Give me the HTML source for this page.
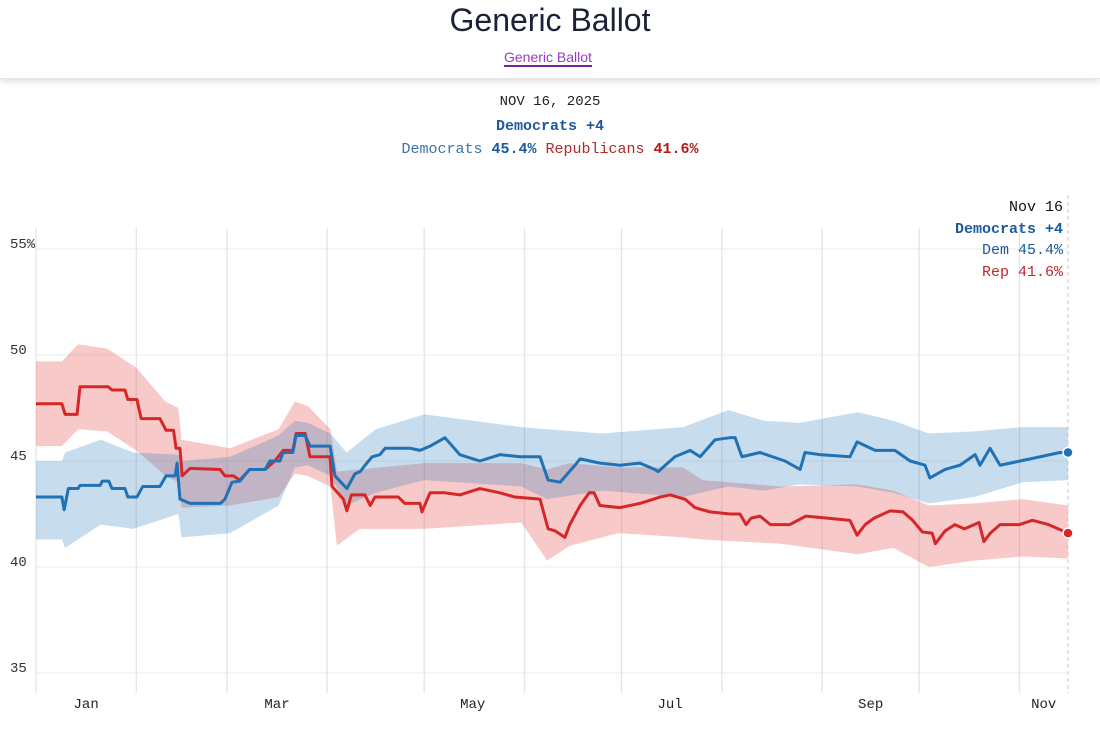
<!DOCTYPE html>
<html><head><meta charset="utf-8"><style>
body{margin:0;width:1100px;height:733px;background:#fff;overflow:hidden;position:relative;font-family:"Liberation Sans",sans-serif}
.hdr{position:absolute;left:0;top:0;width:1100px;height:78px;background:#fff;box-shadow:0 3px 6px rgba(0,0,0,0.12);border-bottom:1px solid #e4e4e4}
.title{position:absolute;top:2px;width:1100px;text-align:center;font-size:32px;color:#1a2238;font-weight:300}
.link{position:absolute;top:49px;left:504px;font-size:14px;color:#9b3bbd;border-bottom:2px solid #7a1fa0;line-height:16px}
.mono{font-family:"Liberation Mono",monospace}
.c{position:absolute;width:1100px;text-align:center}
</style></head><body>
<div class="hdr">
<div class="title">Generic Ballot</div>
<span class="link">Generic Ballot</span>
</div>
<div class="c mono" style="top:94px;font-size:14px;color:#222">NOV 16, 2025</div>
<div class="c mono" style="top:118px;font-size:15px;font-weight:bold;color:#1c5a9c">Democrats +4</div>
<div class="c mono" style="top:141px;font-size:15px"><span style="color:#3a72a8">Democrats</span> <b style="color:#1c5a9c">45.4%</b> <span style="color:#b02a2a">Republicans</span> <b style="color:#b01c1c">41.6%</b></div>
<svg id="chart" width="1100" height="733" style="position:absolute;left:0;top:0"></svg>
<script>
const yTicks=[55,50,45,40,35];
const monthStarts=[0,31,59,90,120,151,181,212,243,273,304];
const monthLabels=["Jan","Mar","May","Jul","Sep","Nov"];
const monthLabelDays=[15.5,74.5,135,196,258,311.5];
const demDays=[0,8,8.7,10,13,13.6,19.8,20.5,22.5,23.5,27.5,28.4,31.2,33,38.3,40.2,43,43.6,44.5,47.6,57,58.4,60.6,63,66,70.8,72.3,75.4,76.4,79.4,80.4,83.2,84.7,90.9,92.4,96.1,98.6,100.2,101.7,103.9,106.3,107.9,115.6,118.7,121.8,126.4,131,137.2,143.4,149.6,155.8,158.3,162,166.6,168.2,174.3,180.5,186.7,191.3,192.3,197.5,202.2,205.3,209.9,214.5,216.1,218.2,223.8,231.5,236.2,237.7,242.3,251.6,253.8,259.4,265.5,270.2,274.8,276.3,281,285.6,290.3,291.8,294.9,298,304.2,310.4,316.5,319];
const demVals=[43.3,43.3,42.7,43.7,43.7,43.85,43.85,44.05,44.05,43.7,43.7,43.3,43.3,43.8,43.8,44.3,44.3,44.9,43.2,43.0,43.0,43.2,44.0,44.05,44.6,44.6,45.0,45.0,45.4,45.4,46.2,46.2,45.7,45.7,44.3,43.7,44.4,44.5,44.8,45.2,45.3,45.6,45.6,45.5,45.7,46.1,45.3,45.0,45.3,45.2,45.2,44.1,44.0,44.8,45.1,44.9,44.8,44.9,44.6,44.5,45.2,45.5,45.2,46.0,46.1,46.1,45.2,45.4,45.0,44.6,45.4,45.3,45.2,45.9,45.5,45.5,45.0,44.8,44.2,44.6,44.8,45.3,44.8,45.6,44.8,45.0,45.2,45.4,45.4];
const repDays=[0,8,9,12.7,13.6,22.3,23.5,27.5,28.4,31.2,32.5,38.3,40.2,42.5,43.3,44.5,45.2,47.6,56.9,58.4,61,63,66,70.8,73.8,76.4,79.4,80.4,83.2,84.7,90.9,91.5,95,96.1,97.5,101.7,103.3,104.8,112,114,118.7,119.3,121.8,126.4,131,137.2,143.4,148,155.8,158.3,160.5,163.5,165,168.2,171,172.5,174.3,180.5,186.7,192.9,196,200.6,203.7,208.3,214.5,217.6,219.5,221,223.8,227,233,238,245,251.6,253.8,256.3,259,264,268,271,274,277,278,281,284,287,290,291.5,293,295,298,304,308,313,319];
const repVals=[47.7,47.7,47.2,47.2,48.5,48.5,48.35,48.35,47.9,47.9,47.0,47.0,46.45,46.45,45.6,45.6,44.3,44.65,44.6,44.3,44.3,44.1,44.6,44.6,45.0,45.5,45.5,46.3,46.3,45.2,45.2,43.8,43.2,42.65,43.4,43.4,42.9,43.3,43.3,43.0,43.0,42.6,43.5,43.5,43.4,43.7,43.5,43.3,43.2,41.8,41.7,41.4,42.0,42.9,43.5,43.5,42.9,42.8,43.0,43.3,43.4,43.2,42.8,42.6,42.5,42.5,42.0,42.3,42.4,42.0,42.0,42.4,42.3,42.2,41.5,42.0,42.3,42.65,42.6,42.2,41.65,41.6,41.1,41.7,42.0,41.8,42.0,42.1,41.2,41.6,42.0,42.0,42.2,42.0,41.6];
const demBandDays=[0,8,9,20,30,44,45,60,75,80,84,91,96,105,120,150,158,175,200,214,225,236,254,265,276,290,305,319];
const demHi=[45.0,45.0,45.4,46.0,45.4,45.3,45.0,45.2,46.2,46.9,46.8,46.3,45.4,46.5,47.2,46.6,46.5,46.3,46.6,47.4,46.9,46.8,47.3,46.9,46.3,46.4,46.6,46.6];
const demLo=[41.3,41.3,40.9,42.0,41.8,42.5,41.4,41.6,42.9,44.7,44.8,44.3,42.9,43.5,44.1,43.8,43.2,43.6,43.3,43.8,43.6,43.9,43.8,43.5,43.0,43.3,44.0,44.1];
const repBandDays=[0,8,13,22,31,40,44,45,60,75,80,84,91,93,100,120,150,158,165,180,200,206,230,254,265,276,290,305,319];
const repHi=[49.7,49.7,50.5,50.3,49.4,47.8,47.5,46.0,45.6,46.5,47.8,47.6,46.5,44.5,44.6,44.9,44.9,44.6,44.9,44.7,44.7,44.1,43.8,43.9,43.6,42.9,43.0,43.2,42.9];
const repLo=[45.7,45.7,46.5,46.4,45.5,44.3,44.0,42.8,42.9,43.3,44.4,44.3,43.8,41.0,41.8,41.8,42.1,40.3,41.0,41.6,41.4,41.3,41.1,40.6,40.9,40.0,40.3,40.5,40.4];

const svg=document.getElementById('chart');
const NS='http://www.w3.org/2000/svg';
const X0=36,X1=1068,D1=319,Y55=249,PX=21.2;
function xs(d){return X0+d*(X1-X0)/D1;}
function ys(v){return Y55+(55-v)*PX;}
function mk(t,a,p){const e=document.createElementNS(NS,t);for(const k in a)e.setAttribute(k,a[k]);(p||svg).appendChild(e);return e;}
// horizontal grid
yTicks.forEach((v,i)=>{
 const l=mk('line',{x1:X0,x2:X1,y1:ys(v),y2:ys(v),stroke:'#ececec','stroke-width':1});
 
 
 const t=mk('text',{x:10,y:ys(v)-1,'font-size':14,fill:'#333','font-family':'Liberation Mono, monospace'});
 t.textContent=v+(i===0?'%':'');
 
 
});
monthStarts.forEach(d=>{
 const l=mk('line',{x1:xs(d),x2:xs(d),y1:228,y2:693,stroke:'#e4e4e8','stroke-width':1.3});
 
 
});
monthLabels.forEach((m,i)=>{
 const t=mk('text',{x:xs(monthLabelDays[i]),y:708,'font-size':14,fill:'#222','text-anchor':'middle','font-family':'Liberation Mono, monospace'});
 t.textContent=m;
 
 
});
function band(days,hi,lo,fill,name){
 let d='M'+days.map((x,i)=>xs(x)+','+ys(hi[i])).join('L');
 for(let i=days.length-1;i>=0;i--)d+='L'+xs(days[i])+','+ys(lo[i]);
 const p=mk('path',{d:d+'Z',fill:fill});
 
 
}
band(repBandDays,repHi,repLo,'rgba(232,100,100,0.35)','rep-confidence-band');
band(demBandDays,demHi,demLo,'rgba(40,120,185,0.26)','dem-confidence-band');
function line(days,vals,col,name){
 const p=mk('path',{d:'M'+days.map((x,i)=>xs(x)+','+ys(vals[i])).join('L'),fill:'none',stroke:col,'stroke-width':3,'stroke-linejoin':'round'});
 
 
}
line(repDays,repVals,'#d62728','rep-line');
line(demDays,demVals,'#1f72b5','dem-line');
const vl=mk('line',{x1:X1,x2:X1,y1:195,y2:693,stroke:'#c8c8d0','stroke-dasharray':'4,3'});


const c1=mk('circle',{cx:X1,cy:ys(demVals[demVals.length-1]),r:5,fill:'#1f72b5',stroke:'#fff','stroke-width':1.5});


const c2=mk('circle',{cx:X1,cy:ys(repVals[repVals.length-1]),r:5,fill:'#d62728',stroke:'#fff','stroke-width':1.5});


const tip=[["Nov 16","#111","normal",211,"tooltip-date"],["Democrats +4","#1c5a9c","bold",233,"tooltip-lead"],["Dem 45.4%","#1c5a9c","normal",254,"tooltip-dem"],["Rep 41.6%","#c0282a","normal",276,"tooltip-rep"]];
tip.forEach(r=>{
 const t=mk('text',{x:1063,y:r[3],'font-size':15,fill:r[1],'font-weight':r[2],'text-anchor':'end','font-family':'Liberation Mono, monospace'});
 t.textContent=r[0];
 
 
});
</script>
</body></html>
